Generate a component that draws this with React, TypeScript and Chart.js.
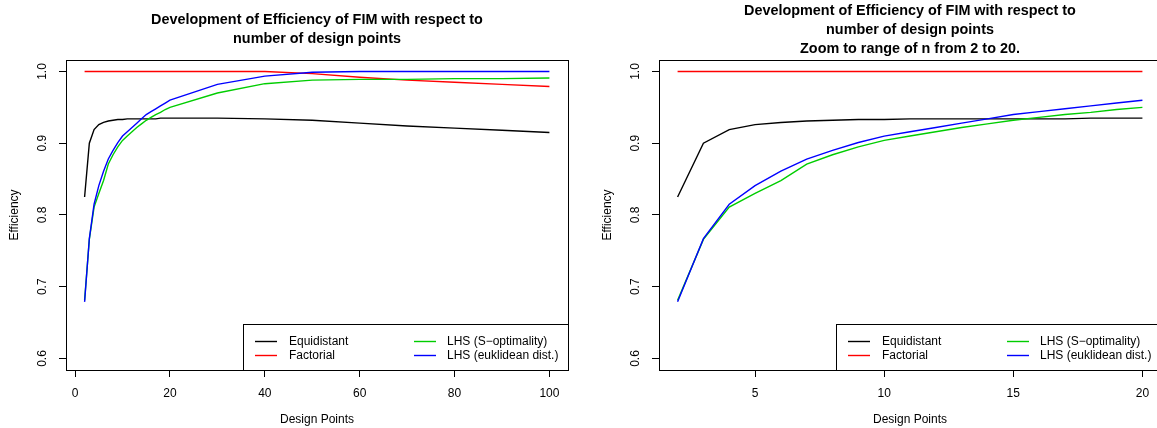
import React, { useEffect, useRef } from "react";
import { Chart, registerables } from "chart.js";

Chart.register(...registerables);

// ---------- data ----------
const designPoints = [2, 3, 4, 5, 6, 7, 8, 9, 10, 11, 12, 13, 14, 15, 16, 17, 18, 19, 20, 30, 40, 50, 60, 70, 80, 90, 100];
const equidistant = [0.825, 0.9, 0.919, 0.926, 0.929, 0.931, 0.932, 0.933, 0.933, 0.934, 0.934, 0.934, 0.934, 0.934, 0.934, 0.934, 0.935, 0.935, 0.935, 0.935, 0.934, 0.932, 0.928, 0.924, 0.921, 0.918, 0.915];
const factorial = [1, 1, 1, 1, 1, 1, 1, 1, 1, 1, 1, 1, 1, 1, 1, 1, 1, 1, 1, 1, 1, 0.997, 0.992, 0.988, 0.985, 0.982, 0.979];
const lhsSOptimality = [0.681, 0.766, 0.811, 0.83, 0.848, 0.871, 0.884, 0.895, 0.904, 0.91, 0.916, 0.922, 0.927, 0.932, 0.936, 0.94, 0.943, 0.947, 0.95, 0.97, 0.983, 0.988, 0.989, 0.989, 0.99, 0.99, 0.991];
const lhsEuklidean = [0.679, 0.767, 0.815, 0.841, 0.861, 0.878, 0.89, 0.901, 0.91, 0.916, 0.922, 0.928, 0.934, 0.94, 0.944, 0.948, 0.952, 0.956, 0.96, 0.982, 0.9935, 0.999, 1, 1, 1, 1, 1];

const seriesLabels = ["Equidistant", "Factorial", "LHS (S\u2212optimality)", "LHS (euklidean dist.)"];
const seriesColors = ["#000000", "#ff0000", "#00cd00", "#0000ff"];

const yLimits = [0.6, 1.0];
const yTicks = [0.6, 0.7, 0.8, 0.9, 1.0];
const xTicksFull = [0, 20, 40, 60, 80, 100];
const xTicksZoom = [5, 10, 15, 20];

const titleFull = ["Development of Efficiency of FIM with respect to", "number of design points"];
const titleZoom = ["Development of Efficiency of FIM with respect to", "number of design points", "Zoom to range of n from 2 to 20."];

const FONT = '"Liberation Sans", Arial, Helvetica, sans-serif';
const LINE_W = 1.4;

Chart.defaults.font.family = FONT;
Chart.defaults.color = "#000";

const rDecor = {
  id: "rDecor",
  afterDraw(chart: any) {
    const { ctx, chartArea: a, scales } = chart;
    ctx.save();
    // plot box
    ctx.strokeStyle = "#000";
    ctx.lineWidth = 1;
    ctx.strokeRect(Math.round(a.left) + 0.5, Math.round(a.top) + 0.5, Math.round(a.right - a.left), Math.round(a.bottom - a.top));

    // rotated y tick labels (R style)
    const ys = scales.y;
    ctx.font = "12px " + FONT;
    ctx.fillStyle = "#000";
    ctx.textAlign = "center";
    ctx.textBaseline = "middle";
    for (const t of ys.ticks) {
      const py = ys.getPixelForValue(t.value);
      ctx.save();
      ctx.translate(a.left - 23, py);
      ctx.rotate(-Math.PI / 2);
      ctx.fillText(Number(t.value).toFixed(1), 0, 0);
      ctx.restore();
    }

    // legend (bottom-right, two columns)
    const lw = 325;
    const lh = 46;
    const lx = Math.round(a.right) - lw;
    const ly = Math.round(a.bottom) - lh;
    ctx.fillStyle = "#fff";
    ctx.fillRect(lx, ly, lw, lh);
    ctx.strokeStyle = "#000";
    ctx.strokeRect(lx + 0.5, ly + 0.5, lw, lh);
    const cols = [
      { l0: 12, l1: 34, t: 46 },
      { l0: 171, l1: 193, t: 204 },
    ];
    const rows = [17, 31];
    ctx.textAlign = "left";
    ctx.textBaseline = "middle";
    ctx.font = "12px " + FONT;
    chart.data.datasets.forEach((ds: any, k: number) => {
      const c = cols[Math.floor(k / 2)];
      const y = ly + rows[k % 2];
      ctx.strokeStyle = ds.borderColor;
      ctx.lineWidth = LINE_W;
      ctx.beginPath();
      ctx.moveTo(lx + c.l0, y + 0.5);
      ctx.lineTo(lx + c.l1, y + 0.5);
      ctx.stroke();
      ctx.fillStyle = "#000";
      ctx.fillText(ds.label, lx + c.t, y + 1);
    });
    ctx.restore();
  },
};

function RChart({ maxN, xTicks, title, titlePad }: { maxN: number; xTicks: number[]; title: string[]; titlePad: number }) {
  const ref = useRef<HTMLCanvasElement | null>(null);
  useEffect(() => {
    if (!ref.current) return;
    const idx = designPoints.map((_, i) => i).filter((i) => designPoints[i] <= maxN);
    const xs = idx.map((i) => designPoints[i]);
    const minX = Math.min(...xs);
    const maxX = Math.max(...xs);
    const xPad = (maxX - minX) * 0.04;
    const yPad = (yLimits[1] - yLimits[0]) * 0.04;
    const series = [equidistant, factorial, lhsSOptimality, lhsEuklidean];
    const datasets = series.map((s, k) => ({
      label: seriesLabels[k],
      data: idx.map((i) => ({ x: designPoints[i], y: s[i] })),
      borderColor: seriesColors[k],
      backgroundColor: seriesColors[k],
      borderWidth: LINE_W,
      pointRadius: 0,
      fill: false,
      tension: 0,
      order: 4 - k,
    }));
    const gridOpts = {
      display: true,
      drawOnChartArea: false,
      drawTicks: true,
      tickLength: 7,
      color: "#000",
      lineWidth: 1,
    };
    const chart = new Chart(ref.current, {
      type: "line",
      data: { datasets },
      options: {
        responsive: false,
        animation: false,
        devicePixelRatio: 1,
        layout: { padding: { left: 0, right: 25, top: 0, bottom: 0 } },
        plugins: {
          legend: { display: false },
          tooltip: { enabled: false },
          title: {
            display: true,
            text: title,
            fullSize: false,
            color: "#000",
            font: { size: 14.4, weight: "bold", lineHeight: 19 / 14.4, family: FONT },
            padding: { top: titlePad, bottom: titlePad },
          },
        },
        scales: {
          x: {
            type: "linear",
            min: minX - xPad,
            max: maxX + xPad,
            afterFit: (s: any) => {
              s.height = 58;
            },
            afterBuildTicks: (s: any) => {
              s.ticks = xTicks.map((v) => ({ value: v }));
            },
            grid: gridOpts,
            border: { display: false },
            ticks: {
              color: "#000",
              font: { size: 12, family: FONT },
              padding: 9,
              maxRotation: 0,
              autoSkip: false,
              callback: (v: any) => String(v),
            },
            title: {
              display: true,
              text: "Design Points",
              color: "#000",
              font: { size: 12, family: FONT },
              padding: { top: 0, bottom: 1 },
            },
          },
          y: {
            type: "linear",
            min: yLimits[0] - yPad,
            max: yLimits[1] + yPad,
            afterFit: (s: any) => {
              s.width = 66;
            },
            afterBuildTicks: (s: any) => {
              s.ticks = yTicks.map((v) => ({ value: v }));
            },
            grid: gridOpts,
            border: { display: false },
            ticks: { display: false },
            title: {
              display: true,
              text: "Efficiency",
              color: "#000",
              font: { size: 12, family: FONT },
              padding: { top: 7, bottom: 0 },
            },
          },
        },
      },
      plugins: [rDecor],
    } as any);
    return () => chart.destroy();
  }, [maxN, xTicks, title, titlePad]);
  return <canvas ref={ref} width={593} height={428} style={{ width: 593, height: 428, display: "block" }} />;
}

export default function App() {
  return (
    <div style={{ position: "fixed", left: 0, top: 0, width: 1157, height: 428, overflow: "hidden", background: "#fff" }}>
      <div style={{ position: "absolute", left: 0, top: 0 }}>
        <RChart maxN={100} xTicks={xTicksFull} title={titleFull} titlePad={11} />
      </div>
      <div style={{ position: "absolute", left: 593, top: 0 }}>
        <RChart maxN={20} xTicks={xTicksZoom} title={titleZoom} titlePad={1.5} />
      </div>
    </div>
  );
}
